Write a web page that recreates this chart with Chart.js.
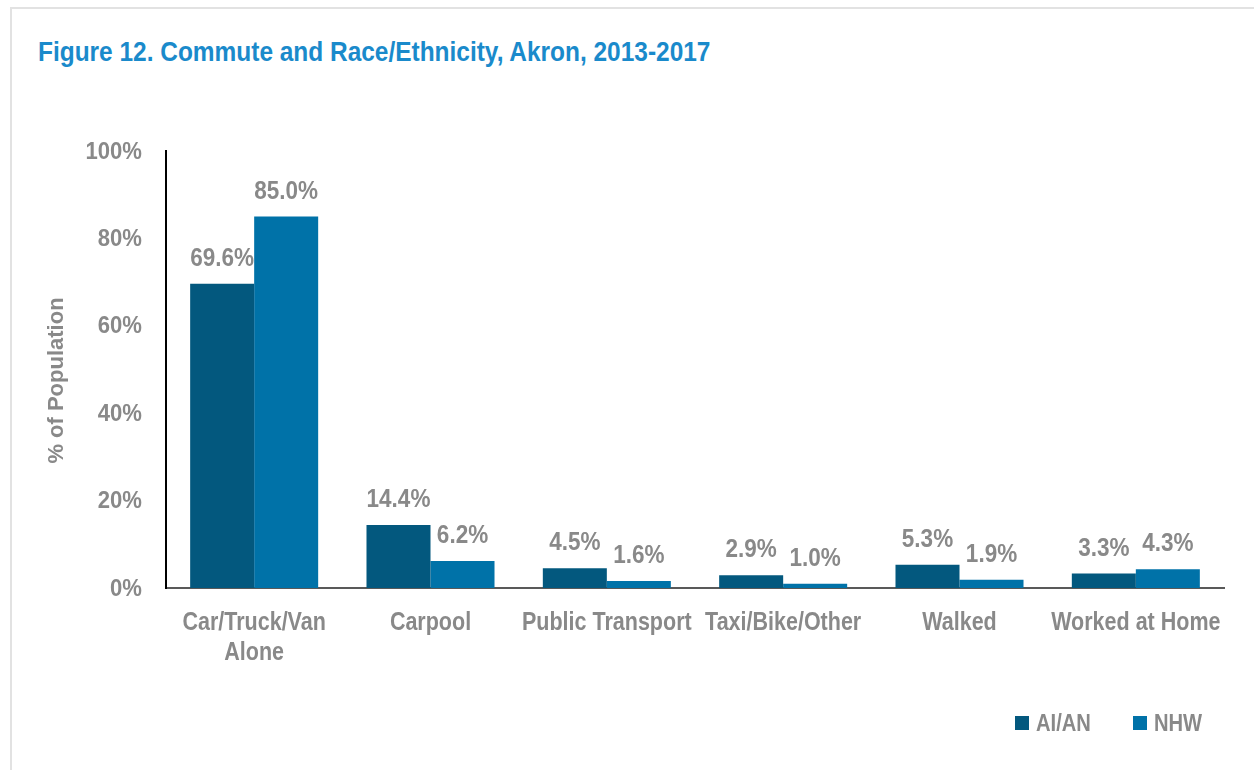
<!DOCTYPE html>
<html>
<head>
<meta charset="utf-8">
<script src="https://cdn.jsdelivr.net/npm/chart.js@4.4.1/dist/chart.umd.min.js"></script>
<style>
  html, body { margin: 0; padding: 0; background: #ffffff; }
  #wrap { position: relative; width: 1254px; height: 770px; overflow: hidden; background: #fff; }
  #frame { position: absolute; left: 10px; top: 7px; width: 1300px; height: 800px;
           border-left: 2px solid #e2e2e2; border-top: 2px solid #e2e2e2; }
  #title { position: absolute; left: 38px; top: 36px; margin: 0;
           font-family: "Liberation Sans", Arial, sans-serif;
           font-weight: bold; font-size: 28px; color: #1a8acb; white-space: nowrap;
           transform: scaleX(0.873); transform-origin: 0 0; }
  #chartBox { position: absolute; left: 0; top: 0; width: 1254px; height: 770px; }
  .item { position: absolute; top: 709px; display: flex; align-items: center;
          font-family: "Liberation Sans", Arial, sans-serif;
          font-weight: bold; font-size: 24px; color: #898989; white-space: nowrap; }
  .sw { width: 14px; height: 14px; }
  .lt { display: inline-block; margin-left: 7px; transform: scaleX(0.84); transform-origin: 0 50%; }
</style>
</head>
<body>
<div id="wrap">
  <div id="frame"></div>
  <div id="title">Figure 12. Commute and Race/Ethnicity, Akron, 2013-2017</div>
  <div id="chartBox"><canvas id="c" width="1254" height="770"></canvas></div>
  <div id="legend"></div>
</div>
<script>
const categories = [["Car/Truck/Van", "Alone"], "Carpool", "Public Transport", "Taxi/Bike/Other", "Walked", "Worked at Home"];
const seriesNames = ["AI/AN", "NHW"];
const aianValues = [69.6, 14.4, 4.5, 2.9, 5.3, 3.3];
const nhwValues = [85.0, 6.2, 1.6, 1.0, 1.9, 4.3];
const seriesColors = ["#03587e", "#0072a8"];
const yTicks = [0, 20, 40, 60, 80, 100];
const yTitle = "% of Population";

const FONT = '"Liberation Sans", Arial, sans-serif';
const GREY = '#898989';

const legendEl = document.getElementById('legend');
const legendLeft = [1015, 1133];
seriesNames.forEach((n, i) => {
  const it = document.createElement('div');
  it.className = 'item';
  it.style.left = legendLeft[i] + 'px';
  const sw = document.createElement('div');
  sw.className = 'sw';
  sw.style.background = seriesColors[i];
  const t = document.createElement('span');
  t.className = 'lt';
  t.textContent = n;
  it.appendChild(sw); it.appendChild(t);
  legendEl.appendChild(it);
});

function narrowText(ctx, text, x, y, align, sx) {
  ctx.save();
  ctx.translate(x, y);
  ctx.scale(sx, 1);
  ctx.textAlign = align;
  ctx.fillText(text, 0, 0);
  ctx.restore();
}

const textPlugin = {
  id: 'narrowText',
  afterDatasetsDraw(chart) {
    const ctx = chart.ctx;
    ctx.save();
    ctx.fillStyle = GREY;
    // value labels
    ctx.font = 'bold 25px ' + FONT;
    ctx.textBaseline = 'alphabetic';
    chart.data.datasets.forEach((ds, di) => {
      const meta = chart.getDatasetMeta(di);
      meta.data.forEach((el, i) => {
        narrowText(ctx, ds.data[i].toFixed(1) + '%', el.x, el.y - 18, 'center', 0.9);
      });
    });
    // x tick labels
    const xs = chart.scales.x;
    ctx.font = 'bold 25px ' + FONT;
    categories.forEach((lab, i) => {
      const x = xs.getPixelForTick(i);
      const lines = Array.isArray(lab) ? lab : [lab];
      lines.forEach((ln, j) => narrowText(ctx, ln, x, 630 + j * 30, 'center', 0.86));
    });
    // y tick labels
    const ys = chart.scales.y;
    ctx.font = 'bold 24px ' + FONT;
    ctx.textBaseline = 'middle';
    ys.ticks.forEach(t => {
      narrowText(ctx, t.value + '%', ys.left + ys.width - 24, ys.getPixelForValue(t.value) + 1, 'right', 0.92);
    });
    // y title
    ctx.font = 'bold 22px ' + FONT;
    ctx.save();
    ctx.translate(57, (chart.chartArea.top + chart.chartArea.bottom) / 2 + 11);
    ctx.rotate(-Math.PI / 2);
    ctx.textAlign = 'center';
    ctx.fillText(yTitle, 0, 0);
    ctx.restore();
    ctx.restore();
  }
};

new Chart(document.getElementById('c'), {
  type: 'bar',
  data: {
    labels: categories,
    datasets: [
      { label: seriesNames[0], data: aianValues, backgroundColor: seriesColors[0] },
      { label: seriesNames[1], data: nhwValues, backgroundColor: seriesColors[1] }
    ]
  },
  options: {
    responsive: false,
    animation: false,
    devicePixelRatio: 1,
    layout: { padding: { left: 0, right: 30, top: 151, bottom: 0 } },
    datasets: { bar: { categoryPercentage: 0.726, barPercentage: 1.0 } },
    plugins: { legend: { display: false }, title: { display: false }, tooltip: { enabled: false } },
    scales: {
      x: {
        grid: { display: false, drawTicks: false },
        border: { display: true, color: '#595959', width: 2 },
        ticks: { display: false, autoSkip: false },
        afterFit(scale) { scale.height = 182; }
      },
      y: {
        min: 0, max: 100,
        afterBuildTicks(scale) { scale.ticks = yTicks.map(v => ({ value: v })); },
        grid: { display: false, drawTicks: false },
        border: { display: true, color: '#000000', width: 2 },
        ticks: { display: false },
        afterFit(scale) { scale.width = 166; }
      }
    }
  },
  plugins: [textPlugin]
});
</script>
</body>
</html>
